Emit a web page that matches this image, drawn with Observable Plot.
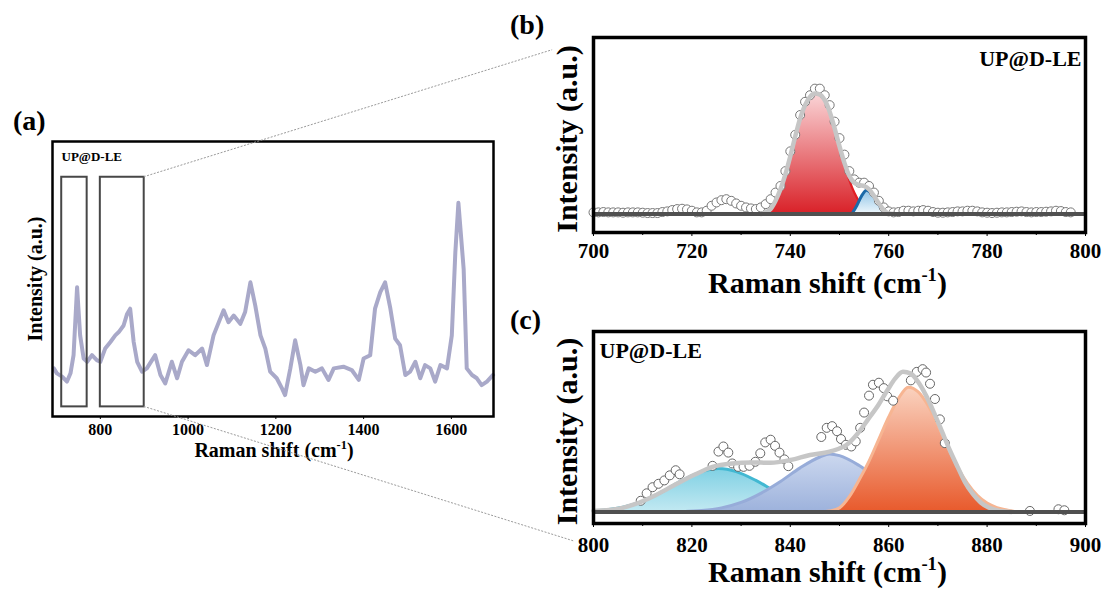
<!DOCTYPE html>
<html><head><meta charset="utf-8">
<script src="https://cdn.jsdelivr.net/npm/d3@7"></script>
<script src="https://cdn.jsdelivr.net/npm/@observablehq/plot@0.6"></script>
<style>
html,body{margin:0;padding:0;background:#fff;}
#fig{position:relative;width:1107px;height:599px;overflow:hidden;font-family:"Liberation Serif","Times New Roman",serif;font-weight:bold;background:#fff;}
#fig svg text{font-family:"Liberation Serif","Times New Roman",serif;font-weight:bold;}
.plabel{position:absolute;font-size:28px;font-weight:bold;line-height:1;color:#000;}
</style></head><body><div id="fig"></div>
<script>
// ---------- data ----------
// (a) full spectrum
const aShift = [694,701,713,724,732,739,747,754,762,770,781,792,800,811,823,834,842,853,861,868,876,884,895,906,925,937,948,963,975,986,1001,1016,1032,1043,1058,1073,1081,1092,1104,1119,1130,1142,1153,1165,1176,1187,1202,1214,1221,1233,1244,1256,1263,1275,1290,1305,1320,1332,1354,1373,1389,1400,1415,1426,1438,1449,1461,1472,1483,1495,1506,1518,1529,1540,1552,1563,1575,1590,1601,1609,1616,1628,1635,1647,1658,1669,1681,1695];
const aIntensity = [17.5,15.7,14.5,12.7,15.7,22.3,47,29.5,21.1,19.9,22.3,20.5,19.9,24.7,27.1,29.5,30.7,33.1,37.3,39.2,27.1,19.9,16.3,17.5,22.3,15.1,12,19.9,13.9,19.9,24.1,22.3,24.7,18.7,29.5,35.5,38.6,34.3,36.7,33.7,38,48.8,40.4,29.5,24.7,16.3,13.9,10.2,7.8,17.5,27.7,18.7,11.4,17.5,16.3,17.5,13.3,17.5,18.1,16.9,13.3,21.1,22.3,39.2,45.2,48.8,39.2,28.3,25.9,15.1,16.3,19.9,13.9,18.7,17.5,12.7,18.7,17.5,29.5,59.6,77.7,53.6,17.5,15.1,13.9,11.4,12.7,15.1];
const aTicks = [800,1000,1200,1400,1600];
const boxFrom = [712, 800];
const boxTo = [770, 900];
const boxLow = 3.5, boxHigh = 87;

// (b) 700-800 region
const bTicks = [700,720,740,760,780,800];
const bMinor = [710,730,750,770,790];
const bDotShift = [700,701,702,703,704,705,706,707,708,709,710,711,712,713,714,715,716,717,718,719,720,721,722,723,724,725,726,727,728,729,730,731,732,733,734,735,736,737,738,739,740,741,742,743,744,745,746,747,748,749,750,751,752,753,754,755,756,757,758,759,760,761,762,763,764,765,766,767,768,769,770,771,772,773,774,775,776,777,778,779,780,781,782,783,784,785,786,787,788,789,790,791,792,793,794,795,796,797];
const bDotValue = [0.05,0.05,0.06,0.05,0.05,0.05,0.04,0.05,0.05,0.05,0.04,0.03,0.03,0.03,0.06,0.08,0.12,0.15,0.16,0.14,0.1,0.05,0.05,0.1,0.25,0.35,0.42,0.45,0.4,0.32,0.25,0.2,0.17,0.15,0.2,0.3,0.45,0.65,0.85,1.3,1.9,2.4,3.0,3.4,3.6,3.8,3.8,3.6,3.3,2.8,2.3,1.8,1.3,1.05,0.95,0.95,0.85,0.65,0.4,0.2,0.08,0.05,0.06,0.1,0.1,0.08,0.1,0.12,0.1,0.06,0.04,0.04,0.05,0.06,0.08,0.08,0.1,0.1,0.08,0.05,0.04,0.03,0.04,0.05,0.05,0.06,0.07,0.08,0.06,0.05,0.06,0.06,0.07,0.08,0.1,0.09,0.06,0.05];
const bFitShift = [734,735,736,737,738,739,740,741,742,743,744,745,746,747,748,749,750,751,752,753,754,755,756,757,758,759,760,761];
const bFitValue = [0,0.05,0.15,0.4,0.75,1.2,1.75,2.35,2.9,3.3,3.55,3.65,3.62,3.45,3.1,2.6,2.05,1.55,1.15,0.95,0.88,0.85,0.75,0.55,0.32,0.12,0.02,0];
const bRedShift = [735,736,737,738,739,740,741,742,743,744,745,746,747,748,749,750,751,752,753,754,755,756,757,758,759];
const bRedValue = [0,0.12,0.38,0.72,1.18,1.73,2.33,2.88,3.28,3.53,3.63,3.6,3.43,3.08,2.58,2.02,1.5,1.03,0.65,0.38,0.2,0.09,0.035,0.01,0];
const bBlueShift = [752.5,753.5,754.5,755.5,756.5,757.5,758.5,759.5,760.5];
const bBlueValue = [0,0.25,0.55,0.72,0.62,0.4,0.18,0.05,0];

// (c) 800-900 region
const cTicks = [800,820,840,860,880,900];
const cMinor = [810,830,850,870,890];
const cDotShift = [809.6,810.8,812,813.2,814.4,815.5,816.7,817.5,824.2,825.4,826.4,827.4,828.2,829.4,830.5,831.7,832.9,833.9,834.9,836,836.9,837.8,838.8,839.6,846.3,847.4,848.5,849.5,850.3,851.3,852.4,853.3,854.2,855,856,856.8,858,859,859.7,860.9,864.5,865.7,866.9,867.6,868.4,869.4,870.4,871.4,888.7,894.5,895.7];
const cDotValue = [0.33,0.55,0.73,0.83,0.93,1.08,1.23,1.11,1.36,1.78,1.93,1.75,1.43,1.33,1.33,1.36,1.48,1.73,2.05,2.13,1.95,1.75,1.55,1.35,2.21,2.48,2.53,2.38,2.15,1.98,1.93,2.08,2.48,2.93,3.43,3.75,3.81,3.65,3.41,3.28,3.88,4.13,4.21,4.11,3.78,3.33,2.73,2.03,0.03,0.08,0.05];
const cFitShift = [800,804.5,808.4,812.4,816.3,820.3,824.2,828.2,832.1,836,840,844,848,851.9,853.8,855.8,857.8,859.7,861.3,862.9,864.5,866,867.6,869.2,870.8,872.4,874,875.5,877.1,878.7,880.3,882.6,885];
const cFitValue = [0.03,0.08,0.23,0.48,0.78,1.08,1.33,1.43,1.46,1.45,1.53,1.68,1.78,2.03,2.33,2.73,3.13,3.58,3.93,4.13,4.08,3.83,3.43,2.93,2.38,1.83,1.33,0.88,0.53,0.28,0.13,0.03,0];
const cCyanShift = [800,806,810,814,818,822,825.5,829,833,837,841,845,850,854];
const cCyanValue = [0.03,0.14,0.32,0.6,0.93,1.19,1.28,1.19,0.93,0.6,0.32,0.14,0.04,0];
const cBlueShift = [818,822,826,830,834,838,842,846,848,850,854,858,862,866,870,874,878];
const cBlueValue = [0.01,0.04,0.12,0.28,0.55,0.9,1.3,1.62,1.71,1.66,1.37,0.96,0.56,0.27,0.11,0.04,0];
const cOrangeShift = [846,848,850,852,854,856,858,860,862,864,866,868,870,872,874,876,878,880,882,884,886];
const cOrangeValue = [0,0.03,0.12,0.45,0.95,1.5,2.15,2.8,3.35,3.68,3.54,3.14,2.56,1.92,1.32,0.84,0.49,0.26,0.13,0.06,0];

const sampleName = "UP@D-LE";
const xTitle = "Raman shift (cm-1)";
const yTitle = "Intensity (a.u.)";

// ---------- helpers ----------
const FONT = "'Liberation Serif', 'Times New Roman', serif";
const NS = "http://www.w3.org/2000/svg";
const zip = (xs, ys) => xs.map((x, i) => ({shift: x, v: ys[i]}));
const ident = d => d;

function addGradients(svg, grads) {
  const defs = document.createElementNS(NS, "defs");
  for (const g of grads) {
    const lg = document.createElementNS(NS, "linearGradient");
    lg.setAttribute("id", g.id);
    lg.setAttribute("x1", "0"); lg.setAttribute("y1", "0");
    lg.setAttribute("x2", "0"); lg.setAttribute("y2", "1");
    for (const [o, c] of [[0, g.top], [1, g.bottom]]) {
      const s = document.createElementNS(NS, "stop");
      s.setAttribute("offset", o); s.setAttribute("stop-color", c);
      lg.appendChild(s);
    }
    defs.appendChild(lg);
  }
  svg.insertBefore(defs, svg.firstChild);
}
function superscript(svg, size) {
  svg.querySelectorAll("text").forEach(t => {
    if (t.textContent === xTitle) {
      while (t.firstChild) t.removeChild(t.firstChild);
      t.appendChild(document.createTextNode("Raman shift (cm"));
      const s = document.createElementNS(NS, "tspan");
      s.setAttribute("dy", -0.42 * size); s.setAttribute("font-size", 0.62 * size);
      s.textContent = "-1"; t.appendChild(s);
      const e = document.createElementNS(NS, "tspan");
      e.setAttribute("dy", 0.42 * size); e.textContent = ")"; t.appendChild(e);
    }
  });
}
function place(svg, cfg) {
  svg.style.position = "absolute";
  svg.style.left = cfg.left + "px";
  svg.style.top = cfg.top + "px";
  document.getElementById("fig").appendChild(svg);
}
const baseStyle = {fontFamily: FONT, fontWeight: "bold", background: "transparent", color: "black", overflow: "visible"};

// ---------- panel (a) ----------
const A = {left: 0, top: 100, width: 510, height: 370, mL: 52, mR: 17, mT: 41, mB: 54, xDomain: [691, 1696], yDomain: [0, 100]};
const aData = zip(aShift, aIntensity);
const boxes = boxFrom.map((b, i) => ({x1: b, x2: boxTo[i], y1: boxLow, y2: boxHigh}));
const plotA = Plot.plot({
  width: A.width, height: A.height, marginLeft: A.mL, marginRight: A.mR, marginTop: A.mT, marginBottom: A.mB,
  x: {domain: A.xDomain}, y: {domain: A.yDomain, axis: null},
  style: baseStyle,
  marks: [
    Plot.line(aData, {x: "shift", y: "v", stroke: "#a9a9c9", strokeWidth: 4, strokeLinejoin: "round"}),
    Plot.rect(boxes, {x1: "x1", x2: "x2", y1: "y1", y2: "y2", fill: "none", stroke: "#474747", strokeWidth: 2}),
    Plot.axisX({ticks: aTicks, tickSize: 3, tickPadding: 4, fontSize: 16, fontFamily: FONT, fontWeight: "bold", label: null, tickFormat: d => String(d)}),
    Plot.text([sampleName], {text: ident, frameAnchor: "top-left", textAnchor: "start", lineAnchor: "middle", dx: 9, dy: 15, fontSize: 13}),
    Plot.text([xTitle], {text: ident, frameAnchor: "bottom", textAnchor: "middle", lineAnchor: "middle", dx: 1, dy: 34, fontSize: 20}),
    Plot.text([yTitle], {text: ident, frameAnchor: "left", textAnchor: "middle", lineAnchor: "middle", rotate: -90, dx: -17, fontSize: 20}),
    Plot.frame({stroke: "black", strokeWidth: 2.5})
  ]
});
superscript(plotA, 20);
place(plotA, A);

// ---------- panel (b) ----------
const B = {left: 500, top: 0, width: 607, height: 300, mL: 93, mR: 22, mT: 37, mB: 68, xDomain: [700, 800], yDomain: [-0.56, 5.35]};
const plotB = Plot.plot({
  width: B.width, height: B.height, marginLeft: B.mL, marginRight: B.mR, marginTop: B.mT, marginBottom: B.mB,
  x: {domain: B.xDomain}, y: {domain: B.yDomain, axis: null},
  style: baseStyle,
  marks: [
    Plot.areaY(zip(bRedShift, bRedValue), {x: "shift", y: "v", fill: "url(#gRedB)", curve: "monotone-x"}),
    Plot.line(zip(bRedShift, bRedValue), {x: "shift", y: "v", stroke: "#e31e24", strokeWidth: 2.2, curve: "monotone-x"}),
    Plot.areaY(zip(bBlueShift, bBlueValue), {x: "shift", y: "v", fill: "url(#gBlueB)", curve: "monotone-x"}),
    Plot.line(zip(bBlueShift, bBlueValue), {x: "shift", y: "v", stroke: "#1b6aa8", strokeWidth: 3, curve: "monotone-x"}),
    Plot.dot(zip(bDotShift, bDotValue), {x: "shift", y: "v", r: 4.5, fill: "white", stroke: "#777", strokeWidth: 1}),
    Plot.line(zip(bFitShift, bFitValue), {x: "shift", y: "v", stroke: "#c6c6c6", strokeWidth: 4.5, curve: "monotone-x"}),
    Plot.ruleY([0], {stroke: "#505050", strokeWidth: 4}),
    Plot.axisX({ticks: bTicks, tickSize: 4, tickPadding: 7, fontSize: 21, fontFamily: FONT, fontWeight: "bold", label: null, tickFormat: d => String(d)}),
    Plot.axisX({ticks: bMinor, tickSize: 3, label: null, tickFormat: () => ""}),
    Plot.text([sampleName], {text: ident, frameAnchor: "top-right", textAnchor: "end", lineAnchor: "middle", dx: -4, dy: 21, fontSize: 22}),
    Plot.text([xTitle], {text: ident, frameAnchor: "bottom", textAnchor: "middle", lineAnchor: "middle", dx: -12, dy: 51, fontSize: 30}),
    Plot.text([yTitle], {text: ident, frameAnchor: "left", textAnchor: "middle", lineAnchor: "middle", rotate: -90, dx: -26, dy: 4, fontSize: 30}),
    Plot.frame({stroke: "black", strokeWidth: 3.5})
  ]
});
addGradients(plotB, [
  {id: "gRedB", top: "#fad4d6", bottom: "#d92128"},
  {id: "gBlueB", top: "#8ec3e6", bottom: "#eef7fc"}
]);
superscript(plotB, 30);
place(plotB, B);

// ---------- panel (c) ----------
const C = {left: 500, top: 300, width: 607, height: 299, mL: 93, mR: 22, mT: 31, mB: 76, xDomain: [800, 900], yDomain: [-0.34, 5.32]};
const plotC = Plot.plot({
  width: C.width, height: C.height, marginLeft: C.mL, marginRight: C.mR, marginTop: C.mT, marginBottom: C.mB,
  x: {domain: C.xDomain}, y: {domain: C.yDomain, axis: null},
  style: baseStyle,
  marks: [
    Plot.areaY(zip(cCyanShift, cCyanValue), {x: "shift", y: "v", fill: "url(#gCyanC)", curve: "monotone-x"}),
    Plot.line(zip(cCyanShift, cCyanValue), {x: "shift", y: "v", stroke: "#42b8d2", strokeWidth: 3, curve: "monotone-x"}),
    Plot.areaY(zip(cBlueShift, cBlueValue), {x: "shift", y: "v", fill: "url(#gBlueC)", curve: "monotone-x"}),
    Plot.line(zip(cBlueShift, cBlueValue), {x: "shift", y: "v", stroke: "#97acd9", strokeWidth: 3, curve: "monotone-x"}),
    Plot.areaY(zip(cOrangeShift, cOrangeValue), {x: "shift", y: "v", fill: "url(#gOrangeC)", curve: "monotone-x"}),
    Plot.line(zip(cOrangeShift, cOrangeValue), {x: "shift", y: "v", stroke: "#f7b592", strokeWidth: 3, curve: "monotone-x"}),
    Plot.dot(zip(cDotShift, cDotValue), {x: "shift", y: "v", r: 4.5, fill: "white", stroke: "#666", strokeWidth: 1}),
    Plot.line(zip(cFitShift, cFitValue), {x: "shift", y: "v", stroke: "#c6c6c6", strokeWidth: 4.5, curve: "monotone-x"}),
    Plot.ruleY([0], {stroke: "#505050", strokeWidth: 4}),
    Plot.axisX({ticks: cTicks, tickSize: 4, tickPadding: 10, fontSize: 21, fontFamily: FONT, fontWeight: "bold", label: null, tickFormat: d => String(d)}),
    Plot.axisX({ticks: cMinor, tickSize: 3, label: null, tickFormat: () => ""}),
    Plot.text([sampleName], {text: ident, frameAnchor: "top-left", textAnchor: "start", lineAnchor: "middle", dx: 6, dy: 19, fontSize: 22}),
    Plot.text([xTitle], {text: ident, frameAnchor: "bottom", textAnchor: "middle", lineAnchor: "middle", dx: -12, dy: 49, fontSize: 30}),
    Plot.text([yTitle], {text: ident, frameAnchor: "left", textAnchor: "middle", lineAnchor: "middle", rotate: -90, dx: -26, dy: 4, fontSize: 30}),
    Plot.frame({stroke: "black", strokeWidth: 3.5})
  ]
});
addGradients(plotC, [
  {id: "gCyanC", top: "#7fd0e3", bottom: "#c2e9f2"},
  {id: "gBlueC", top: "#ccd8ef", bottom: "#9db2dc"},
  {id: "gOrangeC", top: "#fad3c0", bottom: "#e85a2c"}
]);
superscript(plotC, 30);
place(plotC, C);

// ---------- connectors & panel labels ----------
const xa = d3.scaleLinear(A.xDomain, [A.left + A.mL, A.left + A.width - A.mR]);
const ya = d3.scaleLinear(A.yDomain, [A.top + A.height - A.mB, A.top + A.mT]);
const lerp = (p, q, t) => [p[0] + (q[0] - p[0]) * t, p[1] + (q[1] - p[1]) * t];
const start1 = [xa(boxTo[1]), ya(boxHigh)];
const target1 = [B.left + B.mL, B.top + B.mT];
const start2 = [xa(boxTo[1]), ya(boxLow)];
const target2 = [C.left + C.mL, C.top + C.height - C.mB + 24];
const overlay = d3.create("svg").attr("width", 1107).attr("height", 599)
  .style("position", "absolute").style("left", "0px").style("top", "0px").style("pointer-events", "none");
for (const [s, t, f] of [[start1, target1, 0.909], [start2, target2, 0.958]]) {
  const e = lerp(s, t, f);
  overlay.append("line").attr("x1", s[0]).attr("y1", s[1]).attr("x2", e[0]).attr("y2", e[1])
    .attr("stroke", "#9a9a9a").attr("stroke-width", 1).attr("stroke-dasharray", "2,1.5");
}
document.getElementById("fig").appendChild(overlay.node());

for (const [txt, l, t] of [["(a)", 13, 107], ["(b)", 510, 11], ["(c)", 510, 306]]) {
  const d = document.createElement("div");
  d.className = "plabel"; d.textContent = txt;
  d.style.left = l + "px"; d.style.top = t + "px";
  document.getElementById("fig").appendChild(d);
}
</script></body></html>
